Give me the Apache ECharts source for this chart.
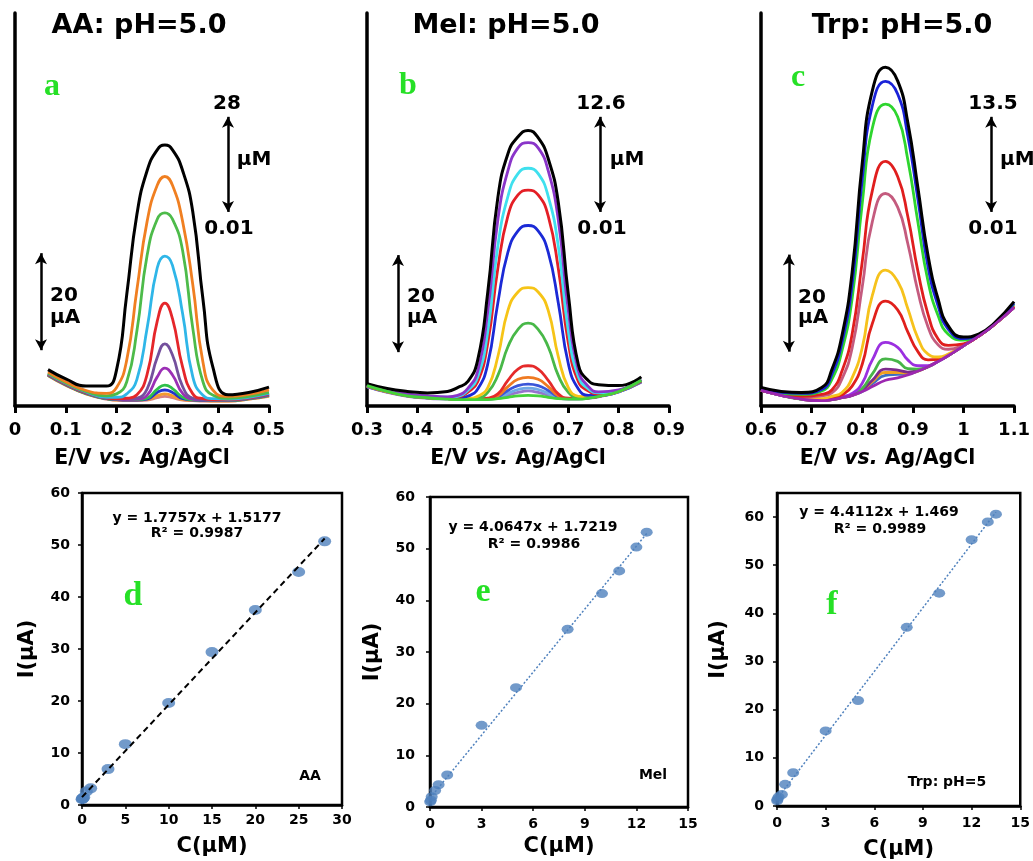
<!DOCTYPE html>
<html><head><meta charset="utf-8">
<script src="https://cdn.jsdelivr.net/npm/echarts@6/dist/echarts.min.js"></script>
<style>html,body{margin:0;padding:0;background:#fff}#c{width:1033px;height:861px}</style>
</head><body><div id="c"></div>
<script>
// ---------- Panel a (AA) : potentials (V) and currents (µA) ----------
const eA = [0.065, 0.1, 0.14, 0.18, 0.2, 0.22, 0.24, 0.26, 0.28, 0.295, 0.31, 0.33, 0.35, 0.37, 0.39, 0.42, 0.46, 0.5];
const aBlack   = [7.5, 5.6, 4.1, 4.1, 7.5, 23, 39.5, 48.5, 52.8, 53.8, 52.8, 48.5, 40, 22, 7.8, 2.3, 2.8, 3.9];
const aOrange  = [7.0, 5.0, 3.2, 2.6, 3.8, 9.5, 24, 38, 45.5, 47.3, 45.5, 38, 25, 9, 3.2, 2.0, 2.4, 3.3];
const aGreen   = [6.8, 4.8, 3.0, 2.1, 2.5, 5.0, 15.5, 31, 38.5, 39.8, 38.5, 32, 16, 5, 2.2, 1.6, 2.0, 2.8];
const aCyan    = [6.7, 4.7, 2.9, 1.8, 1.8, 2.5, 5.5, 16, 28.5, 30.9, 29, 19, 6, 2.2, 1.5, 1.4, 1.8, 2.6];
const aRed     = [6.6, 4.6, 2.8, 1.7, 1.5, 1.6, 2.3, 6.5, 17.5, 21.2, 18, 8, 2.5, 1.5, 1.3, 1.3, 1.7, 2.5];
const aViolet  = [6.5, 4.5, 2.7, 1.6, 1.4, 1.4, 1.6, 3.5, 10, 12.8, 10.5, 4, 1.6, 1.3, 1.2, 1.2, 1.6, 2.4];
const aPurple  = [6.5, 4.5, 2.7, 1.6, 1.4, 1.3, 1.4, 2.2, 6, 7.8, 6.4, 2.6, 1.4, 1.2, 1.2, 1.2, 1.6, 2.3];
const aGreen2  = [6.4, 4.4, 2.6, 1.5, 1.3, 1.3, 1.3, 1.6, 3.5, 4.3, 3.6, 1.8, 1.3, 1.2, 1.1, 1.1, 1.5, 2.2];
const aBlue2   = [6.4, 4.4, 2.6, 1.5, 1.3, 1.2, 1.2, 1.4, 2.8, 3.3, 2.8, 1.5, 1.2, 1.1, 1.1, 1.1, 1.5, 2.2];
const aOrange2 = [6.3, 4.3, 2.5, 1.5, 1.2, 1.2, 1.2, 1.3, 2.1, 2.5, 2.1, 1.3, 1.1, 1.1, 1.0, 1.0, 1.4, 2.1];
const aRose    = [6.3, 4.3, 2.5, 1.4, 1.2, 1.1, 1.1, 1.2, 1.7, 2.0, 1.7, 1.2, 1.1, 1.0, 1.0, 1.0, 1.4, 2.0];

// ---------- Panel b (Mel) ----------
const eB = [0.3, 0.34, 0.38, 0.42, 0.46, 0.48, 0.5, 0.52, 0.54, 0.56, 0.58, 0.6, 0.62, 0.64, 0.66, 0.68, 0.7, 0.72, 0.74, 0.76, 0.8, 0.845];
const bBlack  = [4.6, 3.6, 3.0, 2.7, 3.0, 3.8, 5.0, 9.5, 23.5, 43, 52, 55.5, 56.8, 55.3, 51, 42, 23, 8.5, 5.2, 4.4, 4.2, 6.0];
const bPurple = [4.4, 3.3, 2.5, 2.1, 1.9, 2.2, 3.6, 7.2, 19.5, 38.4, 48.5, 53.2, 54.3, 53.2, 48.5, 38.4, 19.6, 7.3, 4.0, 2.9, 3.3, 5.5];
const bCyan   = [4.3, 3.2, 2.4, 2.0, 1.8, 2.0, 3.2, 6.0, 15.4, 33, 43.2, 47.9, 49.0, 47.9, 43.2, 33, 15.4, 6.0, 3.5, 2.7, 3.2, 5.4];
const bRed    = [4.3, 3.1, 2.3, 1.9, 1.7, 1.8, 2.8, 5.0, 13, 28.4, 39.2, 43.5, 44.5, 43.5, 39.2, 28.4, 13, 5.0, 3.1, 2.5, 3.1, 5.3];
const bBlue   = [4.2, 3.1, 2.3, 1.9, 1.6, 1.6, 2.0, 3.5, 8.7, 21.3, 31.7, 36.1, 37.2, 36.1, 31.7, 21.3, 8.7, 3.5, 2.2, 2.3, 3.1, 5.2];
const bYellow = [4.2, 3.0, 2.2, 1.8, 1.5, 1.4, 1.5, 2.0, 3.8, 10.2, 19.7, 23.5, 24.4, 23.5, 19.7, 10.2, 3.8, 2.0, 1.9, 2.1, 3.0, 5.2];
const bGreen  = [4.2, 3.0, 2.2, 1.8, 1.5, 1.4, 1.4, 1.6, 2.8, 6.3, 12.2, 15.8, 17.1, 15.8, 12.2, 6.3, 2.8, 1.7, 1.8, 2.1, 3.0, 5.2];
const bRed2   = [4.1, 3.0, 2.2, 1.8, 1.5, 1.4, 1.4, 1.4, 1.6, 2.5, 5.3, 7.6, 8.3, 7.6, 5.3, 2.5, 1.6, 1.5, 1.7, 2.0, 3.0, 5.1];
const bOrange = [4.1, 2.9, 2.1, 1.7, 1.5, 1.4, 1.4, 1.4, 1.5, 2.1, 4.0, 5.5, 5.9, 5.5, 4.0, 2.1, 1.5, 1.5, 1.7, 2.0, 3.0, 5.1];
const bBlue2  = [4.0, 2.9, 2.1, 1.7, 1.5, 1.4, 1.4, 1.4, 1.5, 1.9, 3.2, 4.2, 4.5, 4.2, 3.2, 1.9, 1.5, 1.5, 1.7, 2.0, 2.9, 5.0];
const bSky    = [4.0, 2.9, 2.1, 1.7, 1.5, 1.4, 1.4, 1.4, 1.4, 1.7, 2.6, 3.4, 3.7, 3.4, 2.6, 1.7, 1.5, 1.5, 1.7, 2.0, 2.9, 5.0];
const bViolet = [4.0, 2.8, 2.0, 1.6, 1.4, 1.3, 1.3, 1.3, 1.4, 1.6, 2.2, 2.8, 3.1, 2.8, 2.2, 1.6, 1.4, 1.4, 1.6, 1.9, 2.9, 4.9];
const bLime   = [4.2, 3.0, 2.1, 1.7, 1.4, 1.3, 1.3, 1.3, 1.3, 1.5, 1.8, 2.1, 2.2, 2.1, 1.8, 1.5, 1.4, 1.4, 1.6, 2.0, 3.0, 5.3];

// ---------- Panel c (Trp) ----------
const eC = [0.6, 0.64, 0.68, 0.72, 0.74, 0.76, 0.78, 0.8, 0.82, 0.846, 0.87, 0.89, 0.91, 0.93, 0.95, 0.97, 1.0, 1.03, 1.06, 1.1];
const cBlack   = [3.8, 3.0, 2.8, 3.8, 7.5, 14.5, 27.5, 50, 65, 69.8, 67, 58.5, 45, 31, 22, 16.5, 14.2, 14.8, 17, 21.5];
const cBlue    = [3.5, 2.8, 2.6, 3.4, 6.5, 13.1, 25.0, 46.7, 61.9, 66.9, 64.3, 55.7, 42.6, 28.7, 20.6, 15.8, 13.9, 14.7, 16.8, 21.2];
const cGreen   = [3.4, 2.6, 2.4, 3.1, 5.5, 11.4, 22.1, 41.7, 57.3, 62.2, 59.6, 50.8, 37.9, 25.7, 18.6, 14.8, 13.6, 14.6, 16.8, 21.0];
const cRed     = [3.3, 2.5, 2.0, 2.4, 3.3, 7.2, 14.8, 29.7, 44.4, 50.4, 47.3, 39.1, 27.8, 18.9, 13.8, 12.5, 12.8, 14.4, 16.7, 20.6];
const cMauve   = [3.3, 2.4, 1.8, 2.1, 2.7, 5.6, 11.9, 24.5, 38.0, 43.8, 41.0, 33.5, 23.6, 16.3, 12.6, 11.7, 12.6, 14.4, 16.7, 20.5];
const cYellow  = [3.3, 2.3, 1.6, 1.5, 2.0, 2.8, 5.8, 12.0, 22.8, 28.0, 25.7, 20.1, 14.0, 10.7, 10.1, 10.7, 12.5, 14.4, 16.7, 20.4];
const cRed2    = [3.2, 2.3, 1.5, 1.3, 1.6, 2.3, 4.1, 8.6, 17.0, 21.6, 19.8, 15.3, 11.2, 9.5, 9.6, 10.5, 12.5, 14.4, 16.7, 20.4];
const cPurple  = [3.2, 2.2, 1.5, 1.2, 1.4, 1.9, 2.6, 4.7, 9.5, 13.1, 12.1, 9.5, 8.3, 8.3, 9.2, 10.4, 12.4, 14.4, 16.7, 20.3];
const cGreen2  = [3.2, 2.2, 1.4, 1.2, 1.3, 1.8, 2.3, 3.6, 6.6, 9.7, 9.2, 7.7, 7.6, 8.1, 9.2, 10.4, 12.4, 14.4, 16.7, 20.3];
const cPlum    = [3.2, 2.2, 1.4, 1.1, 1.3, 1.8, 2.2, 3.3, 5.3, 7.6, 7.4, 7.0, 7.3, 8.1, 9.2, 10.4, 12.4, 14.4, 16.7, 20.3];
const cOrange  = [3.2, 2.2, 1.4, 1.1, 1.3, 1.7, 2.2, 3.1, 5.0, 6.9, 6.9, 6.8, 7.2, 8.1, 9.2, 10.4, 12.4, 14.4, 16.7, 20.3];
const cTeal    = [3.2, 2.2, 1.4, 1.1, 1.3, 1.7, 2.2, 3.0, 4.6, 6.3, 6.5, 6.6, 7.2, 8.1, 9.2, 10.4, 12.4, 14.4, 16.7, 20.3];
const cMagenta = [3.2, 2.2, 1.4, 1.1, 1.3, 1.7, 2.2, 3.0, 4.0, 5.3, 5.8, 6.4, 7.2, 8.1, 9.2, 10.4, 12.4, 14.4, 16.7, 20.3];

// ---------- Calibration plots ----------
const dConc = [0.01, 0.05, 0.1, 0.2, 0.5, 1, 3, 5, 10, 15, 20, 25, 28];
const dCurr = [1.1, 1.2, 1.3, 1.5, 2.6, 3.2, 6.9, 11.7, 19.6, 29.4, 37.5, 44.8, 50.7];
const dFitX = [0, 28];
const dFitY = [1.5177, 51.24];
const eConc = [0.01, 0.05, 0.1, 0.3, 0.5, 1, 3, 5, 8, 10, 11, 12, 12.6];
const eCurr = [1.0, 1.3, 2.0, 3.2, 4.3, 6.2, 15.8, 23.1, 34.4, 41.3, 45.7, 50.3, 53.2];
const eFitX = [0, 12.6];
const eFitY = [1.7219, 52.94];
const fConc = [0.01, 0.03, 0.1, 0.3, 0.5, 1, 3, 5, 8, 10, 12, 13, 13.5];
const fCurr = [1.1, 1.4, 1.9, 2.4, 4.5, 6.9, 15.6, 21.9, 37.1, 44.2, 55.3, 59.0, 60.6];
const fFitX = [0, 13.5];
const fFitY = [1.469, 61.02];

const FONT = 'DejaVu Sans';
const zip = (xs, ys) => xs.map((x, i) => [x, ys[i]]);

function curve(g, xs, ys, color, z, extra) {
  return Object.assign({
    type: 'line', xAxisIndex: g, yAxisIndex: g, data: zip(xs, ys),
    smooth: 0.5, symbol: 'none', showSymbol: false, silent: true,
    lineStyle: { color: color, width: color === '#000' ? 3 : 2.8 }, z: z
  }, extra || {});
}
function arrows(pairs) {
  return {
    silent: true, symbol: ['arrow', 'arrow'], symbolSize: [9, 11], precision: 4,
    label: { show: false }, emphasis: { disabled: true },
    lineStyle: { color: '#000', width: 2.5, type: 'solid' },
    data: pairs.map(p => [{ coord: [p[0], p[1]] }, { coord: [p[0], p[2]] }])
  };
}
function topX(g, min, max) {
  return {
    gridIndex: g, type: 'value', min: min, max: max, interval: 0.1,
    axisLine: { show: true, onZero: false, lineStyle: { color: '#000', width: 3.5 } },
    axisTick: { show: true, length: 7, lineStyle: { color: '#000', width: 3 } },
    axisLabel: { color: '#000', fontFamily: FONT, fontWeight: 'bold', fontSize: 18, margin: 15 },
    splitLine: { show: false },
    name: 'E/V {i|vs.} Ag/AgCl', nameLocation: 'middle', nameGap: 42,
    nameTextStyle: { color: '#000', fontFamily: FONT, fontWeight: 'bold', fontSize: 20.5,
      rich: { i: { fontStyle: 'italic', fontFamily: FONT, fontWeight: 'bold', fontSize: 20.5, color: '#000' } } }
  };
}
function topY(g) {
  return {
    gridIndex: g, type: 'value', min: 0, max: 81,
    axisLine: { show: true, onZero: false, lineStyle: { color: '#000', width: 3.5 } },
    axisTick: { show: false }, axisLabel: { show: false }, splitLine: { show: false }
  };
}
function botX(g, max, interval, margin, gap) {
  return {
    gridIndex: g, type: 'value', min: 0, max: max, interval: interval,
    axisLine: { show: true, onZero: false, lineStyle: { color: '#000', width: 2.5 } },
    axisTick: { show: true, length: 4, lineStyle: { color: '#000', width: 1.5 } },
    axisLabel: { color: '#000', fontFamily: FONT, fontWeight: 'bold', fontSize: 14, margin: margin },
    splitLine: { show: false },
    name: 'C(µM)', nameLocation: 'middle', nameGap: gap,
    nameTextStyle: { color: '#000', fontFamily: FONT, fontWeight: 'bold', fontSize: 21 }
  };
}
function botY(g, max, margin, gap) {
  return {
    gridIndex: g, type: 'value', min: 0, max: max, interval: 10,
    axisLine: { show: true, onZero: false, lineStyle: { color: '#000', width: 2.5 } },
    axisTick: { show: true, length: 4, lineStyle: { color: '#000', width: 1.5 } },
    axisLabel: { color: '#000', fontFamily: FONT, fontWeight: 'bold', fontSize: 14, margin: margin, showMaxLabel: max % 10 === 0 },
    splitLine: { show: false },
    name: 'I(µA)', nameLocation: 'middle', nameGap: gap, nameRotate: 90,
    nameTextStyle: { color: '#000', fontFamily: FONT, fontWeight: 'bold', fontSize: 21 }
  };
}
function txt(s, x, y, size, align, fam, color) {
  const font = 'bold ' + size + 'px "' + (fam || FONT) + '"';
  return { type: 'text', x: x, y: y, z: 100, silent: true,
    style: { text: s, font: font, fill: color || '#000',
      textAlign: align || 'center', align: align || 'center',
      textVerticalAlign: 'middle', verticalAlign: 'middle' } };
}
const GREEN = '#26e026';

const series = [
  // panel a (smallest first, black on top)
  curve(0, eA, aRose, '#d98080', 2), curve(0, eA, aOrange2, '#f39a2e', 2), curve(0, eA, aBlue2, '#2233cc', 2),
  curve(0, eA, aGreen2, '#2fc04a', 2), curve(0, eA, aPurple, '#9b2fb5', 2), curve(0, eA, aViolet, '#74509d', 2),
  curve(0, eA, aRed, '#e5262a', 2), curve(0, eA, aCyan, '#2fb6e8', 2), curve(0, eA, aGreen, '#4dbb4a', 2),
  curve(0, eA, aOrange, '#f07f21', 2),
  curve(0, eA, aBlack, '#000', 3, { markLine: arrows([[0.4193, 40.0, 59.6], [0.0512, 11.5, 31.5]]) }),
  // panel b
  curve(1, eB, bViolet, '#9575cd', 2), curve(1, eB, bSky, '#6fa8e6', 2), curve(1, eB, bBlue2, '#3a55d8', 2),
  curve(1, eB, bOrange, '#ef7a22', 2), curve(1, eB, bRed2, '#e52a2a', 2), curve(1, eB, bGreen, '#48b848', 2),
  curve(1, eB, bYellow, '#f6c417', 2), curve(1, eB, bBlue, '#1b2ad6', 2), curve(1, eB, bRed, '#e41f26', 2),
  curve(1, eB, bCyan, '#3fe0ee', 2), curve(1, eB, bPurple, '#8a35c9', 2),
  curve(1, eB, bBlack, '#000', 3, { markLine: arrows([[0.763, 40.0, 59.6], [0.3616, 11.1, 31.1]]) }),
  curve(1, eB, bLime, '#44d23a', 4),
  // panel c
  curve(2, eC, cTeal, '#3c6fc0', 2), curve(2, eC, cOrange, '#f0a020', 2), curve(2, eC, cPlum, '#7d2a8c', 2),
  curve(2, eC, cGreen2, '#47b548', 2), curve(2, eC, cPurple, '#9b30e0', 2), curve(2, eC, cRed2, '#e0201c', 2),
  curve(2, eC, cYellow, '#f6c21c', 2), curve(2, eC, cMauve, '#c45b7e', 2), curve(2, eC, cRed, '#e01e1e', 2),
  curve(2, eC, cGreen, '#2ed52e', 2), curve(2, eC, cBlue, '#1a22d8', 2),
  curve(2, eC, cBlack, '#000', 3, { markLine: arrows([[1.0547, 40.0, 59.6], [0.655, 11.2, 31.2]]) }),
  curve(2, eC, cMagenta, '#9c27b0', 4),
  // calibration scatter + fit lines
  { type: 'scatter', xAxisIndex: 3, yAxisIndex: 3, data: zip(dConc, dCurr), symbol: 'circle', symbolSize: [13, 10], itemStyle: { color: '#4f81bd' }, silent: true, z: 2 },
  { type: 'line', xAxisIndex: 3, yAxisIndex: 3, data: zip(dFitX, dFitY), symbol: 'none', silent: true, lineStyle: { color: '#000', width: 2, type: [6, 4] }, z: 3 },
  { type: 'scatter', xAxisIndex: 4, yAxisIndex: 4, data: zip(eConc, eCurr), symbol: 'circle', symbolSize: [12, 9], itemStyle: { color: '#4f81bd' }, silent: true, z: 2 },
  { type: 'line', xAxisIndex: 4, yAxisIndex: 4, data: zip(eFitX, eFitY), symbol: 'none', silent: true, lineStyle: { color: '#4f81bd', width: 1.5, type: [2, 2] }, z: 3 },
  { type: 'scatter', xAxisIndex: 5, yAxisIndex: 5, data: zip(fConc, fCurr), symbol: 'circle', symbolSize: [12, 9], itemStyle: { color: '#4f81bd' }, silent: true, z: 2 },
  { type: 'line', xAxisIndex: 5, yAxisIndex: 5, data: zip(fFitX, fFitY), symbol: 'none', silent: true, lineStyle: { color: '#4f81bd', width: 1.5, type: [2, 2] }, z: 3 }
];

const option = {
  animation: false,
  backgroundColor: '#fff',
  grid: [
    { left: 15, top: 13, width: 254, height: 393 },
    { left: 367, top: 13, width: 302, height: 393 },
    { left: 761, top: 13, width: 254, height: 393 },
    { left: 82, top: 493, width: 260, height: 312, show: true, borderColor: '#000', borderWidth: 2.5 },
    { left: 430, top: 497, width: 258, height: 310, show: true, borderColor: '#000', borderWidth: 2.5 },
    { left: 777, top: 493, width: 245, height: 316, show: true, borderColor: '#000', borderWidth: 2.5 }
  ],
  xAxis: [topX(0, 0, 0.5), topX(1, 0.3, 0.9), topX(2, 0.6, 1.1),
          botX(3, 30, 5, 8, 31), botX(4, 15, 3, 10, 29), botX(5, 15, 3, 10, 33)],
  yAxis: [topY(0), topY(1), topY(2),
          botY(3, 60, 12, 44), botY(4, 60, 15, 47), botY(5, 65, 13, 48)],
  series: series,
  graphic: { elements: [
    txt('AA: pH=5.0', 139, 26, 27), txt('Mel: pH=5.0', 506, 26, 27), txt('Trp: pH=5.0', 902, 26, 27),
    txt('a', 52, 87, 32, 'center', 'Liberation Serif', GREEN),
    txt('b', 408, 86, 32, 'center', 'Liberation Serif', GREEN),
    txt('c', 798, 78, 32, 'center', 'Liberation Serif', GREEN),
    txt('d', 133, 596, 34, 'center', 'Liberation Serif', GREEN),
    txt('e', 483, 592, 34, 'center', 'Liberation Serif', GREEN),
    txt('f', 832, 605, 34, 'center', 'Liberation Serif', GREEN),
    txt('28', 227, 104, 20), txt('µM', 254, 160, 20), txt('0.01', 229, 229, 20),
    txt('12.6', 601, 104, 20), txt('µM', 627, 160, 20), txt('0.01', 602, 229, 20),
    txt('13.5', 993, 104, 20), txt('µM', 1000, 160, 20, 'left'), txt('0.01', 993, 229, 20),
    txt('20', 50, 296, 20, 'left'), txt('µA', 50, 318, 20, 'left'),
    txt('20', 407, 297, 20, 'left'), txt('µA', 407, 318, 20, 'left'),
    txt('20', 798, 298, 20, 'left'), txt('µA', 798, 318, 20, 'left'),
    txt('y = 1.7757x + 1.5177', 197, 518, 14), txt('R² = 0.9987', 197, 533, 14),
    txt('y = 4.0647x + 1.7219', 533, 527, 14), txt('R² = 0.9986', 534, 544, 14),
    txt('y = 4.4112x + 1.469', 879, 512, 14), txt('R² = 0.9989', 880, 529, 14),
    txt('AA', 310, 776, 14), txt('Mel', 653, 775, 14), txt('Trp: pH=5', 947, 782, 14)
  ] }
};
const chart = echarts.init(document.getElementById('c'), null, { renderer: 'canvas' });
chart.setOption(option);
</script>
</body></html>
